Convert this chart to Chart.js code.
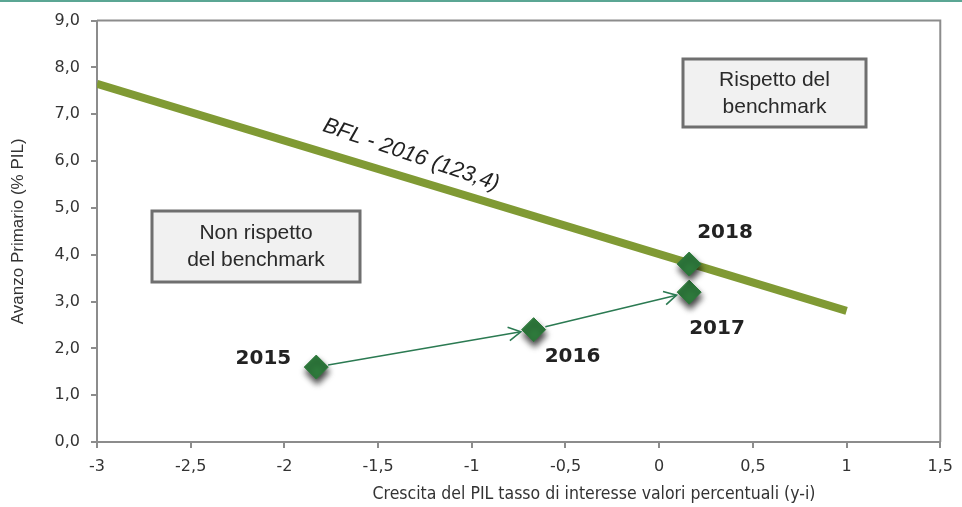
<!DOCTYPE html>
<html>
<head>
<meta charset="utf-8">
<title>BFL benchmark</title>
<script src="https://cdn.jsdelivr.net/npm/chart.js"></script>
<style>
  html, body { margin: 0; padding: 0; background: #fff; }
  #wrap { position: relative; width: 962px; height: 507px; overflow: hidden; }
  #topline { position: absolute; left: 0; top: 0; width: 962px; height: 2px; background: #5ba694; }
  canvas { display: block; }
</style>
</head>
<body>
<div id="wrap">
  <div id="topline"></div>
  <canvas id="chart" width="962" height="507"></canvas>
</div>
<script>
// data
const years = ['2015', '2016', '2017', '2018'];
const growth = [-1.83, -0.67, 0.16, 0.16];     // y-i
const surplus = [1.6, 2.4, 3.2, 3.8];          // avanzo primario % PIL
const bflX = [-3, 1];
const bflY = [7.65, 2.8];
const bflLabel = 'BFL - 2016 (123,4)';
const xTicks = [-3, -2.5, -2, -1.5, -1, -0.5, 0, 0.5, 1, 1.5];
const yTicks = [0, 1, 2, 3, 4, 5, 6, 7, 8, 9];
const arrowPairs = [[0, 1], [1, 2]];
const xTitle = 'Crescita del PIL tasso di interesse valori percentuali (y-i)';
const yTitle = 'Avanzo Primario (% PIL)';
const boxes = [
    { lines: ['Non rispetto', 'del benchmark'], x: 152, y: 211, w: 208, h: 71 },
    { lines: ['Rispetto del', 'benchmark'], x: 683, y: 59, w: 183, h: 68 }
];

const axisGray = '#8c8c8c';
const markerGreen = '#2e7a3c';
const arrowGreen = '#2b7a52';
const lineOlive = '#809a34';

function comma(v, d) {
    return v.toFixed(d).replace('.', ',');
}

const points = years.map((y, i) => ({ x: growth[i], y: surplus[i] }));
const bflPoints = bflX.map((x, i) => ({ x: x, y: bflY[i] }));

// label offsets from each marker, in pixels
const yearOffsets = [
    { dx: -25, dy: -8, align: 'right' },
    { dx: 11, dy: 27, align: 'left' },
    { dx: 0, dy: 37, align: 'left' },
    { dx: 8, dy: -31, align: 'left' }
];

const decorations = {
    id: 'decorations',
    beforeDatasetsDraw(chart) {
        const { ctx, chartArea } = chart;
        ctx.save();
        ctx.strokeStyle = axisGray;
        ctx.lineWidth = 2;
        ctx.beginPath();
        ctx.moveTo(chartArea.left, chartArea.top);
        ctx.lineTo(chartArea.right, chartArea.top);
        ctx.lineTo(chartArea.right, chartArea.bottom);
        ctx.stroke();
        ctx.restore();
    },
    beforeDatasetDraw(chart, args) {
        if (args.index === 0) {
            const ctx = chart.ctx;
            ctx.save();
            ctx.shadowColor = 'rgba(0,0,0,0.75)';
            ctx.shadowBlur = 6;
            ctx.shadowOffsetX = 1;
            ctx.shadowOffsetY = 5;
        }
    },
    afterDatasetDraw(chart, args) {
        if (args.index === 0) chart.ctx.restore();
    },
    afterDatasetsDraw(chart) {
        const { ctx } = chart;
        const xs = chart.scales.x, ys = chart.scales.y;

        // arrows between years
        ctx.save();
        ctx.strokeStyle = arrowGreen;
        ctx.lineWidth = 1.6;
        arrowPairs.forEach(([a, b]) => {
            const x1 = xs.getPixelForValue(growth[a]), y1 = ys.getPixelForValue(surplus[a]);
            const x2 = xs.getPixelForValue(growth[b]), y2 = ys.getPixelForValue(surplus[b]);
            const ang = Math.atan2(y2 - y1, x2 - x1);
            const sx = x1 + Math.cos(ang) * 12, sy = y1 + Math.sin(ang) * 12;
            const ex = x2 - Math.cos(ang) * 13, ey = y2 - Math.sin(ang) * 13;
            ctx.beginPath();
            ctx.moveTo(sx, sy);
            ctx.lineTo(ex, ey);
            ctx.stroke();
            const hl = 14;
            ctx.beginPath();
            ctx.moveTo(ex - hl * Math.cos(ang - 0.5), ey - hl * Math.sin(ang - 0.5));
            ctx.lineTo(ex, ey);
            ctx.lineTo(ex - hl * Math.cos(ang + 0.5), ey - hl * Math.sin(ang + 0.5));
            ctx.stroke();
        });
        ctx.restore();

        // year labels
        ctx.save();
        ctx.fillStyle = '#222';
        ctx.font = 'bold 20px "DejaVu Sans", sans-serif';
        ctx.textBaseline = 'middle';
        years.forEach((yr, i) => {
            const o = yearOffsets[i];
            ctx.textAlign = o.align;
            ctx.fillText(yr, xs.getPixelForValue(growth[i]) + o.dx, ys.getPixelForValue(surplus[i]) + o.dy);
        });
        ctx.restore();

        // BFL label along the line
        const lx1 = xs.getPixelForValue(bflX[0]), ly1 = ys.getPixelForValue(bflY[0]);
        const lx2 = xs.getPixelForValue(bflX[1]), ly2 = ys.getPixelForValue(bflY[1]);
        const ang = Math.atan2(ly2 - ly1, lx2 - lx1);
        const t = 0.41;
        const cx = lx1 + (lx2 - lx1) * t, cy = ly1 + (ly2 - ly1) * t;
        ctx.save();
        ctx.translate(cx + Math.sin(ang) * 23, cy - Math.cos(ang) * 23);
        ctx.rotate(ang + 0.035);
        ctx.fillStyle = '#222';
        ctx.font = 'italic 22px "Liberation Sans", Arial, sans-serif';
        ctx.textAlign = 'center';
        ctx.textBaseline = 'middle';
        ctx.fillText(bflLabel, 0, 0);
        ctx.restore();

        // text boxes
        ctx.save();
        boxes.forEach(b => {
            ctx.fillStyle = '#f1f1f1';
            ctx.fillRect(b.x, b.y, b.w, b.h);
            ctx.strokeStyle = '#6f6f6f';
            ctx.lineWidth = 3;
            ctx.strokeRect(b.x, b.y, b.w, b.h);
            ctx.fillStyle = '#2a2a2a';
            ctx.font = '21px "Liberation Sans", Arial, sans-serif';
            ctx.textAlign = 'center';
            ctx.textBaseline = 'middle';
            const mid = b.y + b.h / 2;
            ctx.fillText(b.lines[0], b.x + b.w / 2, mid - 13);
            ctx.fillText(b.lines[1], b.x + b.w / 2, mid + 14);
        });
        ctx.restore();

        // x axis title (sits right of centre in the original)
        ctx.save();
        ctx.fillStyle = '#333';
        ctx.font = '17.5px "Liberation Sans Narrow", "DejaVu Sans Condensed", sans-serif';
        ctx.textAlign = 'center';
        ctx.textBaseline = 'middle';
        ctx.fillText(xTitle, 594, 494);
        ctx.restore();
    }
};

new Chart(document.getElementById('chart'), {
    type: 'scatter',
    data: {
        datasets: [
            {
                label: 'Anni',
                data: points,
                pointStyle: 'rectRot',
                pointRadius: 12,
                pointHoverRadius: 12,
                backgroundColor: markerGreen,
                borderColor: markerGreen,
                borderWidth: 1,
                order: 0
            },
            {
                label: bflLabel,
                type: 'line',
                data: bflPoints,
                borderColor: lineOlive,
                borderWidth: 8,
                pointRadius: 0,
                fill: false,
                order: 1
            }
        ]
    },
    options: {
        responsive: false,
        animation: false,
        layout: { padding: { top: 20, right: 19, left: 0, bottom: 0 } },
        plugins: {
            legend: { display: false },
            tooltip: { enabled: false }
        },
        scales: {
            x: {
                type: 'linear',
                min: -3,
                max: 1.5,
                afterBuildTicks: s => { s.ticks = xTicks.map(v => ({ value: v })); },
                afterFit: s => { s.height = 65; },
                border: { color: axisGray, width: 2 },
                grid: { drawOnChartArea: false, drawTicks: true, tickLength: 6, color: axisGray, lineWidth: 2 },
                ticks: {
                    color: '#333',
                    padding: 9,
                    maxRotation: 0,
                    font: { family: '"DejaVu Sans", sans-serif', size: 16 },
                    callback: v => comma(v, Number.isInteger(v) ? 0 : 1)
                }
            },
            y: {
                type: 'linear',
                min: 0,
                max: 9,
                afterBuildTicks: s => { s.ticks = yTicks.map(v => ({ value: v })); },
                afterFit: s => { s.width = 97; },
                border: { color: axisGray, width: 2 },
                grid: { drawOnChartArea: false, drawTicks: true, tickLength: 6, color: axisGray, lineWidth: 2 },
                ticks: {
                    color: '#333',
                    padding: 11,
                    font: { family: '"DejaVu Sans", sans-serif', size: 16 },
                    callback: v => comma(v, 1)
                },
                title: {
                    display: true,
                    text: yTitle,
                    color: '#333',
                    padding: { top: 8, bottom: 0 },
                    font: { family: '"Liberation Sans", Arial, sans-serif', size: 17 }
                }
            }
        }
    },
    plugins: [decorations]
});
</script>
</body>
</html>
